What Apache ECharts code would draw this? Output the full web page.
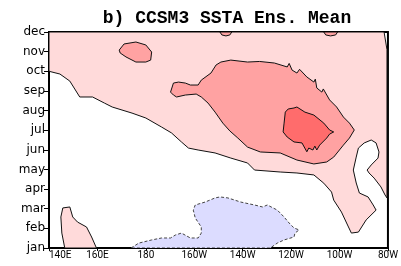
<!DOCTYPE html>
<html>
<head>
<meta charset="utf-8">
<script src="https://cdn.jsdelivr.net/npm/echarts@6/dist/echarts.min.js"></script>
<style>
  html, body { margin: 0; padding: 0; background: #fff; }
  #chart { width: 401px; height: 266px; }
</style>
</head>
<body>
<div id="chart"></div>
<script>
// axis labels
const months = ['jan', 'feb', 'mar', 'apr', 'may', 'jun', 'jul', 'aug', 'sep', 'oct', 'nov', 'dec']
const lonTicks = [140, 160, 180, 200, 220, 240, 260, 280]
const lonLabels = ['140E', '160E', '180', '160W', '140W', '120W', '100W', '80W']

// contour regions, [longitude (deg E), month index (jan = 0)]
const lightPink = [
  [140, 11], [140, 9.0], [144.5, 8.86], [148.6, 8.5], [152.7, 7.69], [158, 7.69],
  [162.9, 7.38], [166.1, 7.18], [174.3, 6.87], [180, 6.62], [186.5, 6.16], [190.6, 5.86],
  [194.7, 5.4], [197.6, 5.09], [201.6, 4.99], [208.6, 4.84], [215.1, 4.58], [222, 4.33],
  [224.9, 3.97], [235.5, 3.87], [242.4, 3.82], [249.4, 3.72], [253.5, 3.3], [256.7, 2.85],
  [257.6, 2.44], [260.8, 1.83], [263.7, 1.07], [264.9, 0.76], [267.8, 0.81], [271, 1.43],
  [275.1, 1.93], [273.9, 2.19], [271.8, 2.6], [268.2, 2.8], [266.9, 3.31], [265.7, 3.97],
  [266.9, 4.63], [267.8, 5.09], [270.2, 5.35], [273.1, 5.5], [275.1, 5.35], [276.3, 4.89],
  [275.9, 4.58], [273.1, 4.23], [271.4, 3.97], [272.2, 3.82], [274.3, 3.56], [277.1, 3.11],
  [278.8, 2.7], [279.6, 2.55], [279.6, 10.1], [278.4, 11]
]
const midPink = [
  [190.2, 7.94], [191.4, 8.4], [193.5, 8.45], [196.3, 8.4], [198.4, 8.3], [201.6, 8.3],
  [202.9, 8.55], [206.9, 8.91], [209, 9.32], [211, 9.47], [215.1, 9.57], [222, 9.47],
  [227, 9.5], [233.1, 9.42], [238.4, 9.22], [239.2, 9.4], [240.4, 9.06], [242.4, 8.91],
  [243.5, 9.1], [246.5, 8.71], [249.4, 8.45], [250, 8.6], [250.6, 8.15], [252.7, 7.94],
  [253.3, 8.1], [255.9, 7.54], [258.8, 7.18], [261.6, 6.67], [264.1, 6.36], [266.1, 6.01],
  [264.1, 5.6], [261.6, 5.24], [257.6, 4.63], [254.7, 4.38], [249.4, 4.28], [242.4, 4.48],
  [235.5, 4.84], [227.3, 4.89], [222, 5.14], [218, 5.6], [214.7, 5.96], [211.8, 6.36],
  [208.6, 6.92], [205.7, 7.38], [202.9, 7.69], [200.8, 7.84], [196.3, 7.79], [192.7, 7.69],
  [191.4, 7.79]
]
const darkPink = [
  [237.6, 6.92], [238.8, 7.08], [241.2, 7.13], [242.4, 7.18], [245.7, 6.92], [249.4, 6.77],
  [253.5, 6.36], [255.9, 6.01], [257.6, 5.91], [255.9, 5.8], [254.7, 5.6], [251.8, 5.24],
  [250.6, 4.99], [249.8, 5.19], [249, 4.99], [247.3, 5.09], [246.5, 4.9], [244.5, 5.35],
  [241.2, 5.4], [238.4, 5.65], [236.7, 5.91], [237.1, 6.36]
]
const novBlob = [
  [169, 10.08], [171, 10.39], [175.9, 10.49], [180, 10.34], [182.4, 9.98], [182, 9.57],
  [180, 9.47], [175.9, 9.47], [171.8, 9.73], [169.4, 9.93]
]
const topBlobWest = [[210.6, 11], [211.4, 10.85], [213.1, 10.8], [214.7, 10.85], [215.5, 11]]
const topBlobEast = [[253.5, 11], [254.3, 10.85], [256.3, 10.8], [258.4, 10.85], [259.2, 11]]
const westBlob = [
  [146.5, 0], [145.3, 0.76], [144.9, 1.58], [145.7, 2.04], [148.6, 2.09], [149.8, 1.58],
  [151.8, 1.32], [155.5, 1.07], [157.6, 0.56], [159.6, 0]
]
const coldPool = [
  [173.9, 0], [177.1, 0.25], [182.4, 0.41], [186.5, 0.51], [190.2, 0.51], [192.2, 0.66],
  [194.7, 0.76], [198.4, 0.51], [201.6, 0.51], [202.9, 0.76], [202.9, 1.07], [200.4, 1.53],
  [199.6, 1.93], [200.4, 2.19], [204.5, 2.34], [208.6, 2.55], [210.6, 2.6], [213.9, 2.55],
  [219.2, 2.34], [224.9, 2.19], [228.2, 2.09], [230.2, 2.19], [234.3, 1.93], [237.1, 1.58],
  [239.2, 1.27], [241.2, 1.02], [243.3, 0.92], [241.6, 0.76], [241.2, 0.56], [237.1, 0.41],
  [234.3, 0.25], [231.4, 0]
]

// one filled contour region drawn as a polygon through the axes
function region(points, fill, dashed) {
  return {
    type: 'custom',
    coordinateSystem: 'cartesian2d',
    clip: true,
    silent: true,
    data: points,
    renderItem: function (params, api) {
      if (params.dataIndex !== 0) return null
      return {
        type: 'polygon',
        shape: { points: points.map(p => api.coord(p)) },
        style: {
          fill: fill,
          stroke: dashed ? '#444' : '#111',
          lineWidth: 1,
          lineDash: dashed ? [3, 2] : null
        }
      }
    }
  }
}

const chart = echarts.init(document.getElementById('chart'), null, { renderer: 'canvas' })
chart.setOption({
  animation: false,
  backgroundColor: '#fff',
  title: {
    text: 'b) CCSM3 SSTA Ens. Mean',
    left: 222,
    top: 4,
    textAlign: 'center',
    textStyle: { fontFamily: 'Liberation Mono', fontWeight: 'bold', fontSize: 18, color: '#000' }
  },
  grid: {
    left: 49, right: 8, top: 32, bottom: 18,
    show: true, borderColor: '#000', borderWidth: 2, backgroundColor: '#fff'
  },
  xAxis: {
    type: 'value',
    min: 140, max: 280, interval: 20,
    axisLine: { show: true, lineStyle: { color: '#000', width: 2 } },
    axisTick: { show: true, length: 3, lineStyle: { color: '#000' } },
    splitLine: { show: false },
    axisLabel: {
      margin: 2,
      fontFamily: 'Roboto',
      fontSize: 10,
      color: '#000',
      alignMinLabel: 'left',
      formatter: v => lonLabels[lonTicks.indexOf(v)]
    }
  },
  yAxis: {
    type: 'value',
    min: 0, max: 11, interval: 1,
    axisLine: { show: true, lineStyle: { color: '#000', width: 2 } },
    axisTick: { show: true, length: 5, lineStyle: { color: '#000' } },
    splitLine: { show: false },
    axisLabel: {
      margin: 4,
      fontFamily: 'DejaVu Sans',
      fontSize: 12,
      color: '#000',
      formatter: v => months[v]
    }
  },
  series: [
    region(lightPink, '#ffdada', false),
    region(westBlob, '#ffdada', false),
    region(midPink, '#ffa2a2', false),
    region(novBlob, '#ffa2a2', false),
    region(topBlobWest, '#ffa2a2', false),
    region(topBlobEast, '#ffa2a2', false),
    region(darkPink, '#ff6c6c', false),
    region(coldPool, '#dcdcff', true)
  ]
})
</script>
</body>
</html>
